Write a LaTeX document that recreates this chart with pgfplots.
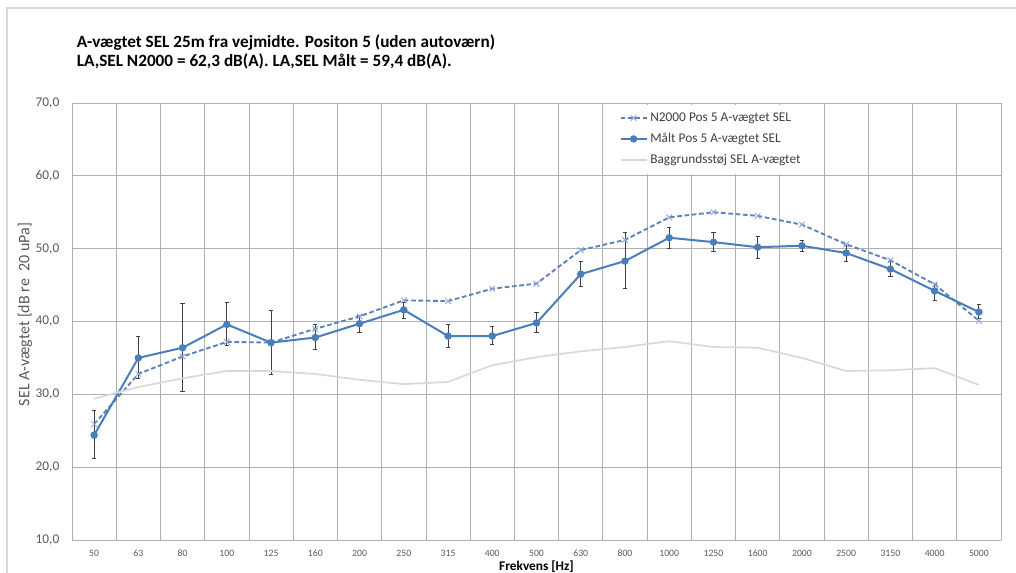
\documentclass[border=0pt]{standalone}
\usepackage{pgfplots}
\pgfplotsset{compat=1.18}
\usepackage{pgfplotstable}
\usepackage{fontspec}
\setmainfont{Carlito}
\definecolor{maalt}{HTML}{4A7EBB}
\definecolor{nline}{HTML}{5A82B8}
\definecolor{nmark}{HTML}{8FAADC}
\definecolor{bg}{HTML}{D9D9D9}
\definecolor{gridc}{HTML}{B0B0B0}
\definecolor{tickc}{HTML}{595959}
\definecolor{legc}{HTML}{404040}
\definecolor{errc}{HTML}{404040}

\pgfplotstableread{
x y ep em
0 24.4 3.4 3.2
1 35.0 3.0 2.8
2 36.4 6.1 6.0
3 39.6 3.0 2.9
4 37.1 4.4 4.3
5 37.8 1.8 1.6
6 39.7 1.1 1.2
7 41.6 1.0 1.1
8 38.0 1.6 1.6
9 38.0 1.3 1.2
10 39.8 1.4 1.3
11 46.5 1.8 1.7
12 48.3 3.9 3.7
13 51.5 1.4 1.5
14 50.9 1.3 1.2
15 50.2 1.5 1.5
16 50.4 0.8 0.8
17 49.4 1.0 1.1
18 47.2 1.0 1.0
19 44.2 1.0 1.3
20 41.3 1.0 0.9
}\maalttable

\pgfplotstableread{
x y
0 25.9
1 32.8
2 35.2
3 37.2
4 37.1
5 39.0
6 40.7
7 42.9
8 42.8
9 44.5
10 45.2
11 49.8
12 51.2
13 54.3
14 55.0
15 54.5
16 53.3
17 50.6
18 48.4
19 45.1
20 40.1
}\ntable

\pgfplotstableread{
x y
0 29.4
1 31.0
2 32.2
3 33.2
4 33.2
5 32.8
6 32.0
7 31.4
8 31.7
9 34.0
10 35.1
11 35.9
12 36.5
13 37.3
14 36.5
15 36.4
16 35.0
17 33.2
18 33.3
19 33.6
20 31.3
}\bgtable

\begin{document}
\begin{tikzpicture}
\useasboundingbox (0,0) rectangle (762pt,429.75pt);
% outer chart frame
\draw[bg, line width=1.1pt] (5.25pt,0) -- (5.25pt,423.75pt) -- (762pt,423.75pt);
% title
\node[anchor=base west, inner sep=0, font=\fontsize{12.9}{15}\selectfont\bfseries] at (57.5pt,393.75pt) {A-vægtet SEL 25m fra vejmidte. Positon 5 (uden autoværn)};
\node[anchor=base west, inner sep=0, font=\fontsize{12.9}{15}\selectfont\bfseries] at (57.5pt,379.5pt) {LA,SEL N2000 = 62,3 dB(A). LA,SEL Målt = 59,4 dB(A).};
\begin{axis}[
  at={(54pt,24.75pt)}, anchor=south west,
  scale only axis, width=696.75pt, height=327.75pt,
  xmin=-0.5, xmax=20.5, ymin=10, ymax=70,
  xtick={0,...,20},
  xticklabels={50,63,80,100,125,160,200,250,315,400,500,630,800,1000,1250,1600,2000,2500,3150,4000,5000},
  minor xtick={-0.5,0.5,...,20.5},
  ytick={10,20,...,70},
  xmajorgrids=false, xminorgrids=true, ymajorgrids=true,
  grid style={gridc, line width=0.6pt},
  minor grid style={gridc, line width=0.6pt},
  major tick length=0pt, minor tick length=0pt,
  axis line style={gridc, line width=0.6pt},
  axis x line*=bottom, axis y line*=left,
  /pgf/number format/assume math mode=true,
  y tick label style={/pgf/number format/fixed, /pgf/number format/fixed zerofill, /pgf/number format/precision=1, /pgf/number format/use comma},
  yticklabel style={font=\fontsize{10}{12}\selectfont, text=tickc, xshift=-6pt},
  xticklabel style={font=\fontsize{7.3}{9}\selectfont, text=tickc, yshift=-4pt},
  xlabel={Frekvens [Hz]},
  xlabel style={at={(axis description cs:0.5,0)}, anchor=north, inner sep=0, yshift=-15.5pt, font=\fontsize{10}{12}\selectfont\bfseries},
  ylabel={SEL A-vægtet [dB re\ \ 20 uPa]},
  ylabel style={at={(axis description cs:-0.0506,0.516)}, anchor=center, inner sep=0, font=\fontsize{12}{14}\selectfont, text=tickc},
  legend style={at={(axis description cs:0.572,0.997)}, anchor=north west, draw=none, fill=white,
    font=\fontsize{10}{12}\selectfont, text=legc, row sep=3.5pt, inner xsep=12pt, inner ysep=4pt},
  legend cell align=left,
  legend image code/.code={\draw[mark repeat=2, mark phase=2, #1] plot coordinates {(0pt,0pt) (9.75pt,0pt) (19.5pt,0pt)};},
  clip=false,
]
\addplot[nline, line width=1.4pt, dash pattern=on 3.5pt off 2pt, mark=x, mark size=3pt,
  mark options={solid, nmark, line width=0.7pt}] table[x=x, y=y] {\ntable};
\addlegendentry{N2000 Pos 5 A-vægtet SEL}
\addplot[maalt, line width=1.5pt, mark=*, mark size=2pt, mark options={solid, fill=maalt, draw=maalt},
  error bars/.cd, y dir=both, y explicit, error mark options={errc, rotate=90, mark size=1.6pt, line width=0.5pt},
  error bar style={errc, line width=0.6pt}]
  table[x=x, y=y, y error plus=ep, y error minus=em] {\maalttable};
\addlegendentry{Målt Pos 5 A-vægtet SEL}
\addplot[bg, line width=1.3pt] table[x=x, y=y] {\bgtable};
\addlegendentry{Baggrundsstøj SEL A-vægtet}
\end{axis}
\end{tikzpicture}
\end{document}
